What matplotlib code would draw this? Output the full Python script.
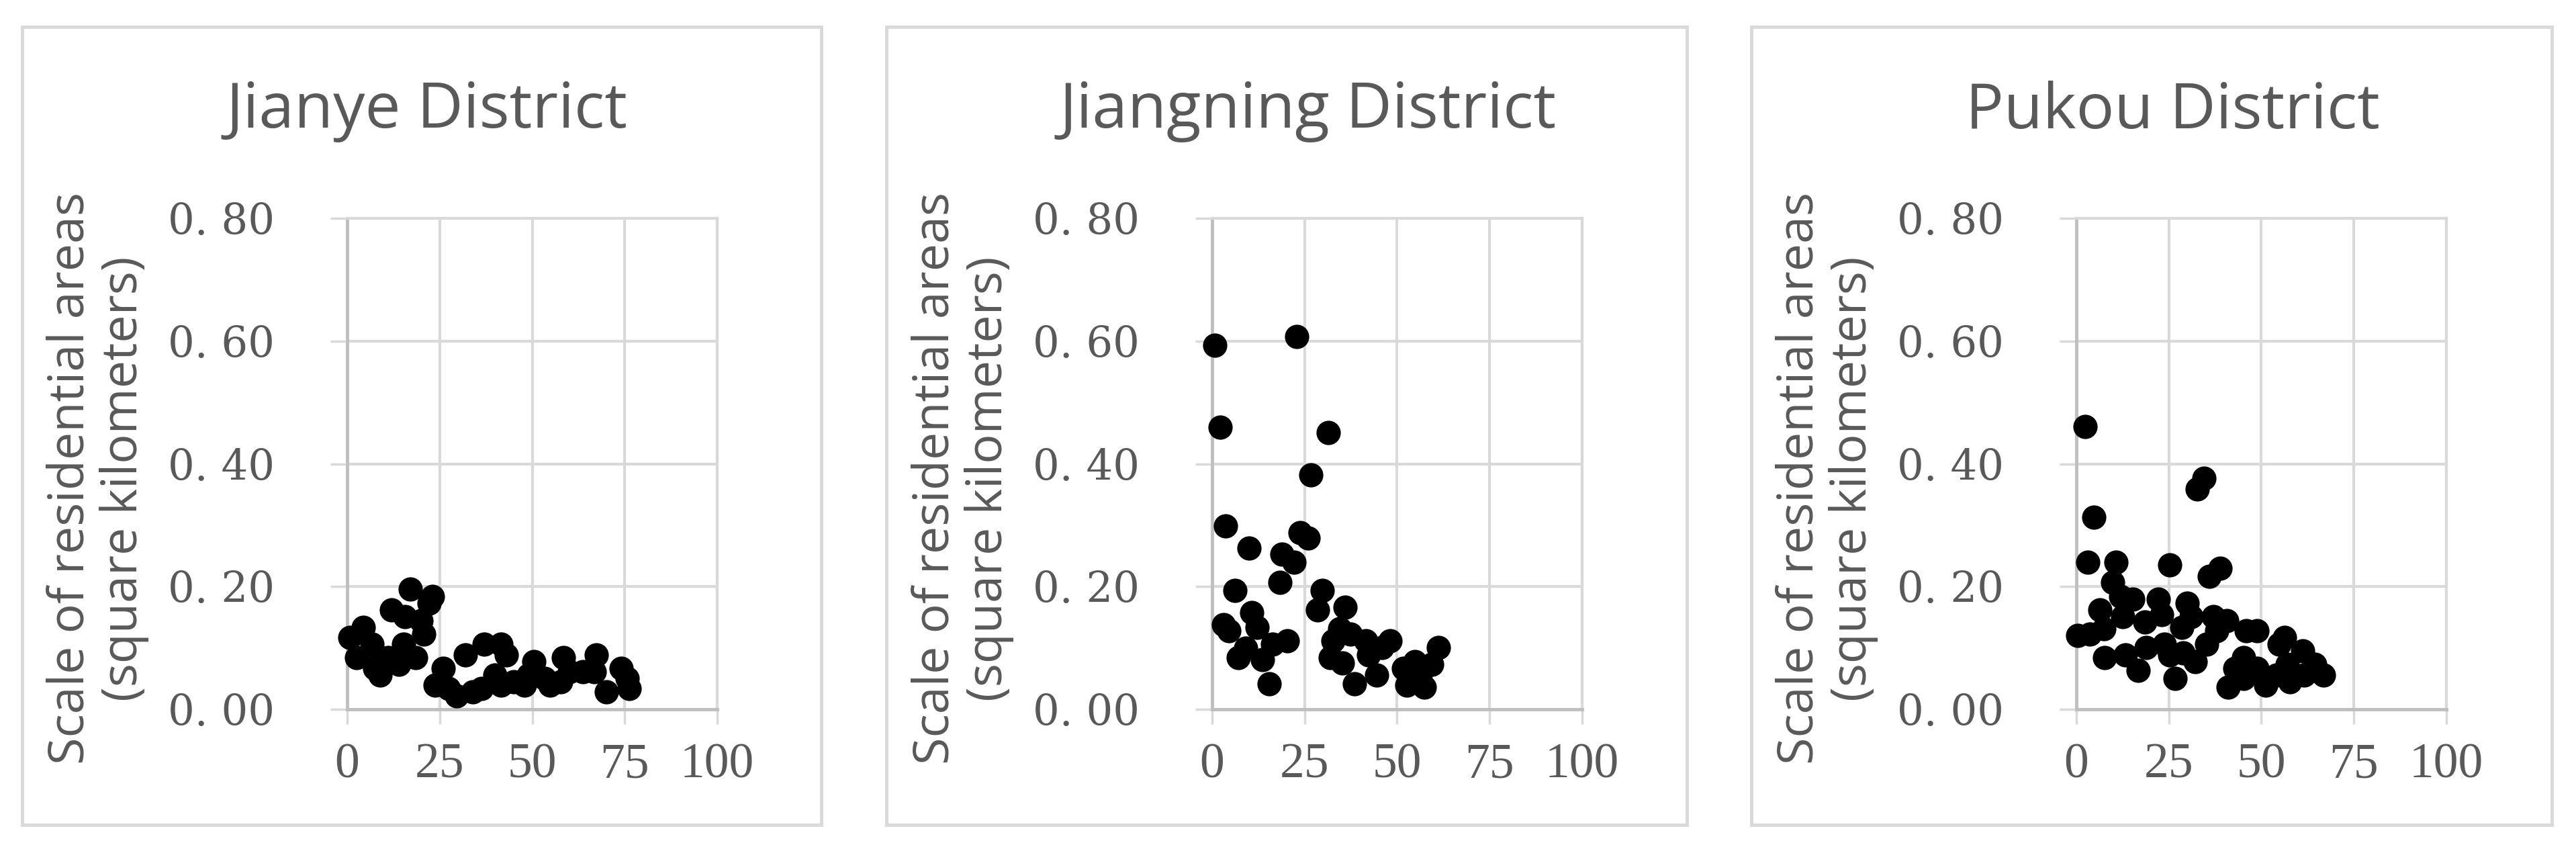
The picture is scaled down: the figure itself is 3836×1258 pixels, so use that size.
import matplotlib
matplotlib.use('Agg')
import matplotlib.pyplot as plt
from matplotlib.patches import Rectangle

# district names
districts = ['Jianye District', 'Jiangning District', 'Pukou District']

# Jianye: x = sample index, y = residential area (km2)
jianye_x = [0.7, 4.4, 6.7, 2.6, 8.1, 8.9, 7.4, 11.9, 11.1, 14.0, 15.2, 17.0, 15.6, 18.5, 20.7, 20.0,
            23.0, 22.2, 26.0, 23.7, 27.4, 29.6, 31.9, 34.0, 36.3, 37.0, 41.5, 43.0, 40.0, 41.5, 45.0,
            48.0, 50.4, 49.0, 53.3, 54.8, 58.5, 57.8, 60.0, 63.7, 67.4, 66.7, 70.0, 74.0, 76.3, 75.6]
jianye_y = [0.117, 0.134, 0.106, 0.084, 0.073, 0.056, 0.067, 0.162, 0.084, 0.073, 0.106, 0.196, 0.151,
            0.084, 0.123, 0.145, 0.184, 0.173, 0.067, 0.039, 0.034, 0.022, 0.089, 0.028, 0.034, 0.106,
            0.106, 0.089, 0.056, 0.039, 0.045, 0.039, 0.078, 0.056, 0.050, 0.039, 0.084, 0.045, 0.061,
            0.061, 0.089, 0.061, 0.028, 0.067, 0.034, 0.050]

jiangning_x = [0.7, 22.8, 2.2, 31.4, 26.7, 3.7, 9.9, 23.7, 25.9, 18.9, 22.1, 18.3, 6.1, 29.8, 28.5,
               35.9, 10.7, 3.0, 4.6, 12.2, 9.0, 7.0, 13.7, 16.3, 20.4, 15.4, 34.4, 37.4, 32.6, 41.5,
               48.1, 45.9, 31.9, 35.2, 42.2, 44.4, 38.5, 51.8, 54.8, 52.6, 57.4, 61.1, 59.3, 56.3]
jiangning_y = [0.593, 0.607, 0.460, 0.451, 0.382, 0.299, 0.263, 0.288, 0.279, 0.253, 0.240, 0.207,
               0.194, 0.194, 0.162, 0.166, 0.158, 0.138, 0.128, 0.134, 0.100, 0.084, 0.081, 0.106,
               0.112, 0.042, 0.131, 0.123, 0.112, 0.112, 0.112, 0.101, 0.084, 0.075, 0.089, 0.056,
               0.042, 0.067, 0.078, 0.039, 0.036, 0.101, 0.073, 0.056]

pukou_x = [2.4, 34.4, 32.7, 4.7, 3.1, 10.7, 25.2, 38.9, 35.9, 9.8, 11.9, 15.2, 22.2, 30.0, 6.3, 12.6,
           18.5, 23.0, 31.0, 28.5, 37.0, 40.7, 7.4, 3.7, 0.4, 38.0, 45.9, 48.9, 35.2, 56.3, 54.8, 7.6,
           13.3, 18.9, 23.7, 25.2, 28.9, 32.2, 16.7, 26.7, 45.2, 42.9, 41.1, 45.2, 48.9, 51.1, 54.1,
           57.8, 61.1, 64.4, 61.5, 66.7, 57.0]
pukou_y = [0.461, 0.377, 0.359, 0.313, 0.240, 0.240, 0.235, 0.230, 0.217, 0.207, 0.184, 0.179, 0.179,
           0.173, 0.162, 0.151, 0.142, 0.154, 0.151, 0.134, 0.151, 0.145, 0.131, 0.123, 0.120, 0.128,
           0.128, 0.128, 0.106, 0.117, 0.106, 0.084, 0.089, 0.101, 0.106, 0.089, 0.092, 0.078, 0.064,
           0.050, 0.084, 0.067, 0.036, 0.050, 0.067, 0.039, 0.056, 0.045, 0.095, 0.073, 0.056, 0.056,
           0.073]

x_ticks = [0, 25, 50, 75, 100]
y_ticks = [0.0, 0.2, 0.4, 0.6, 0.8]
y_tick_labels = ['0. 00', '0. 20', '0. 40', '0. 60', '0. 80']
y_label = 'Scale of residential areas\n(square kilometers)'

W, H = 3837, 1258
text_col = '#595959'
grid_col = '#d9d9d9'
axis_col = '#bfbfbf'

fig = plt.figure(figsize=(W / 100, H / 100), dpi=100)

# pixel layout for each panel: box left/right, axes left, title center
box_lr = [(33, 1223), (1320, 2512), (2608, 3800)]
ax_left = [517, 1805, 3092]
title_cx = [636, 1948, 3235]
data = [(jianye_x, jianye_y), (jiangning_x, jiangning_y), (pukou_x, pukou_y)]

for i in range(3):
    l, r = box_lr[i]
    fig.patches.append(Rectangle((l / W, 1 - 1228 / H), (r - l) / W, (1228 - 40) / H,
                                 transform=fig.transFigure, fill=False,
                                 edgecolor=grid_col, linewidth=3.5))
    fig.text(title_cx[i] / W, 1 - 166 / H, districts[i], ha='center', va='center',
             fontsize=68, color=text_col, family='Open Sans')

    ax = fig.add_axes([ax_left[i] / W, (H - 1056) / H, 551 / W, 731 / H])
    xs, ys = data[i]
    ax.scatter(xs, ys, s=680, color='black', zorder=3, clip_on=False, linewidths=0)
    ax.set_xlim(0, 100)
    ax.set_ylim(0, 0.8)
    ax.set_xticks(x_ticks)
    ax.set_yticks(y_ticks)
    ax.set_yticklabels(y_tick_labels, family='DejaVu Serif', fontsize=45, color=text_col)
    ax.set_xticklabels([str(t) for t in x_ticks], family='Liberation Serif', fontsize=53,
                       color=text_col)
    ax.tick_params(axis='y', length=18, width=2.5, color=grid_col, pad=60)
    ax.tick_params(axis='x', length=16, width=2.5, color=grid_col, pad=20)
    ax.grid(True, color=grid_col, linewidth=3)
    ax.set_axisbelow(True)
    for side in ['top', 'right']:
        ax.spines[side].set_color(grid_col)
        ax.spines[side].set_linewidth(3)
    for side in ['left', 'bottom']:
        ax.spines[side].set_color(axis_col)
        ax.spines[side].set_linewidth(3.5)
    ax.text(-0.675, 0.47, y_label, transform=ax.transAxes, rotation=90, ha='center',
            va='center', multialignment='center', fontsize=53, color=text_col,
            family='Open Sans', linespacing=1.1)

fig.savefig('out.png', dpi=100)
